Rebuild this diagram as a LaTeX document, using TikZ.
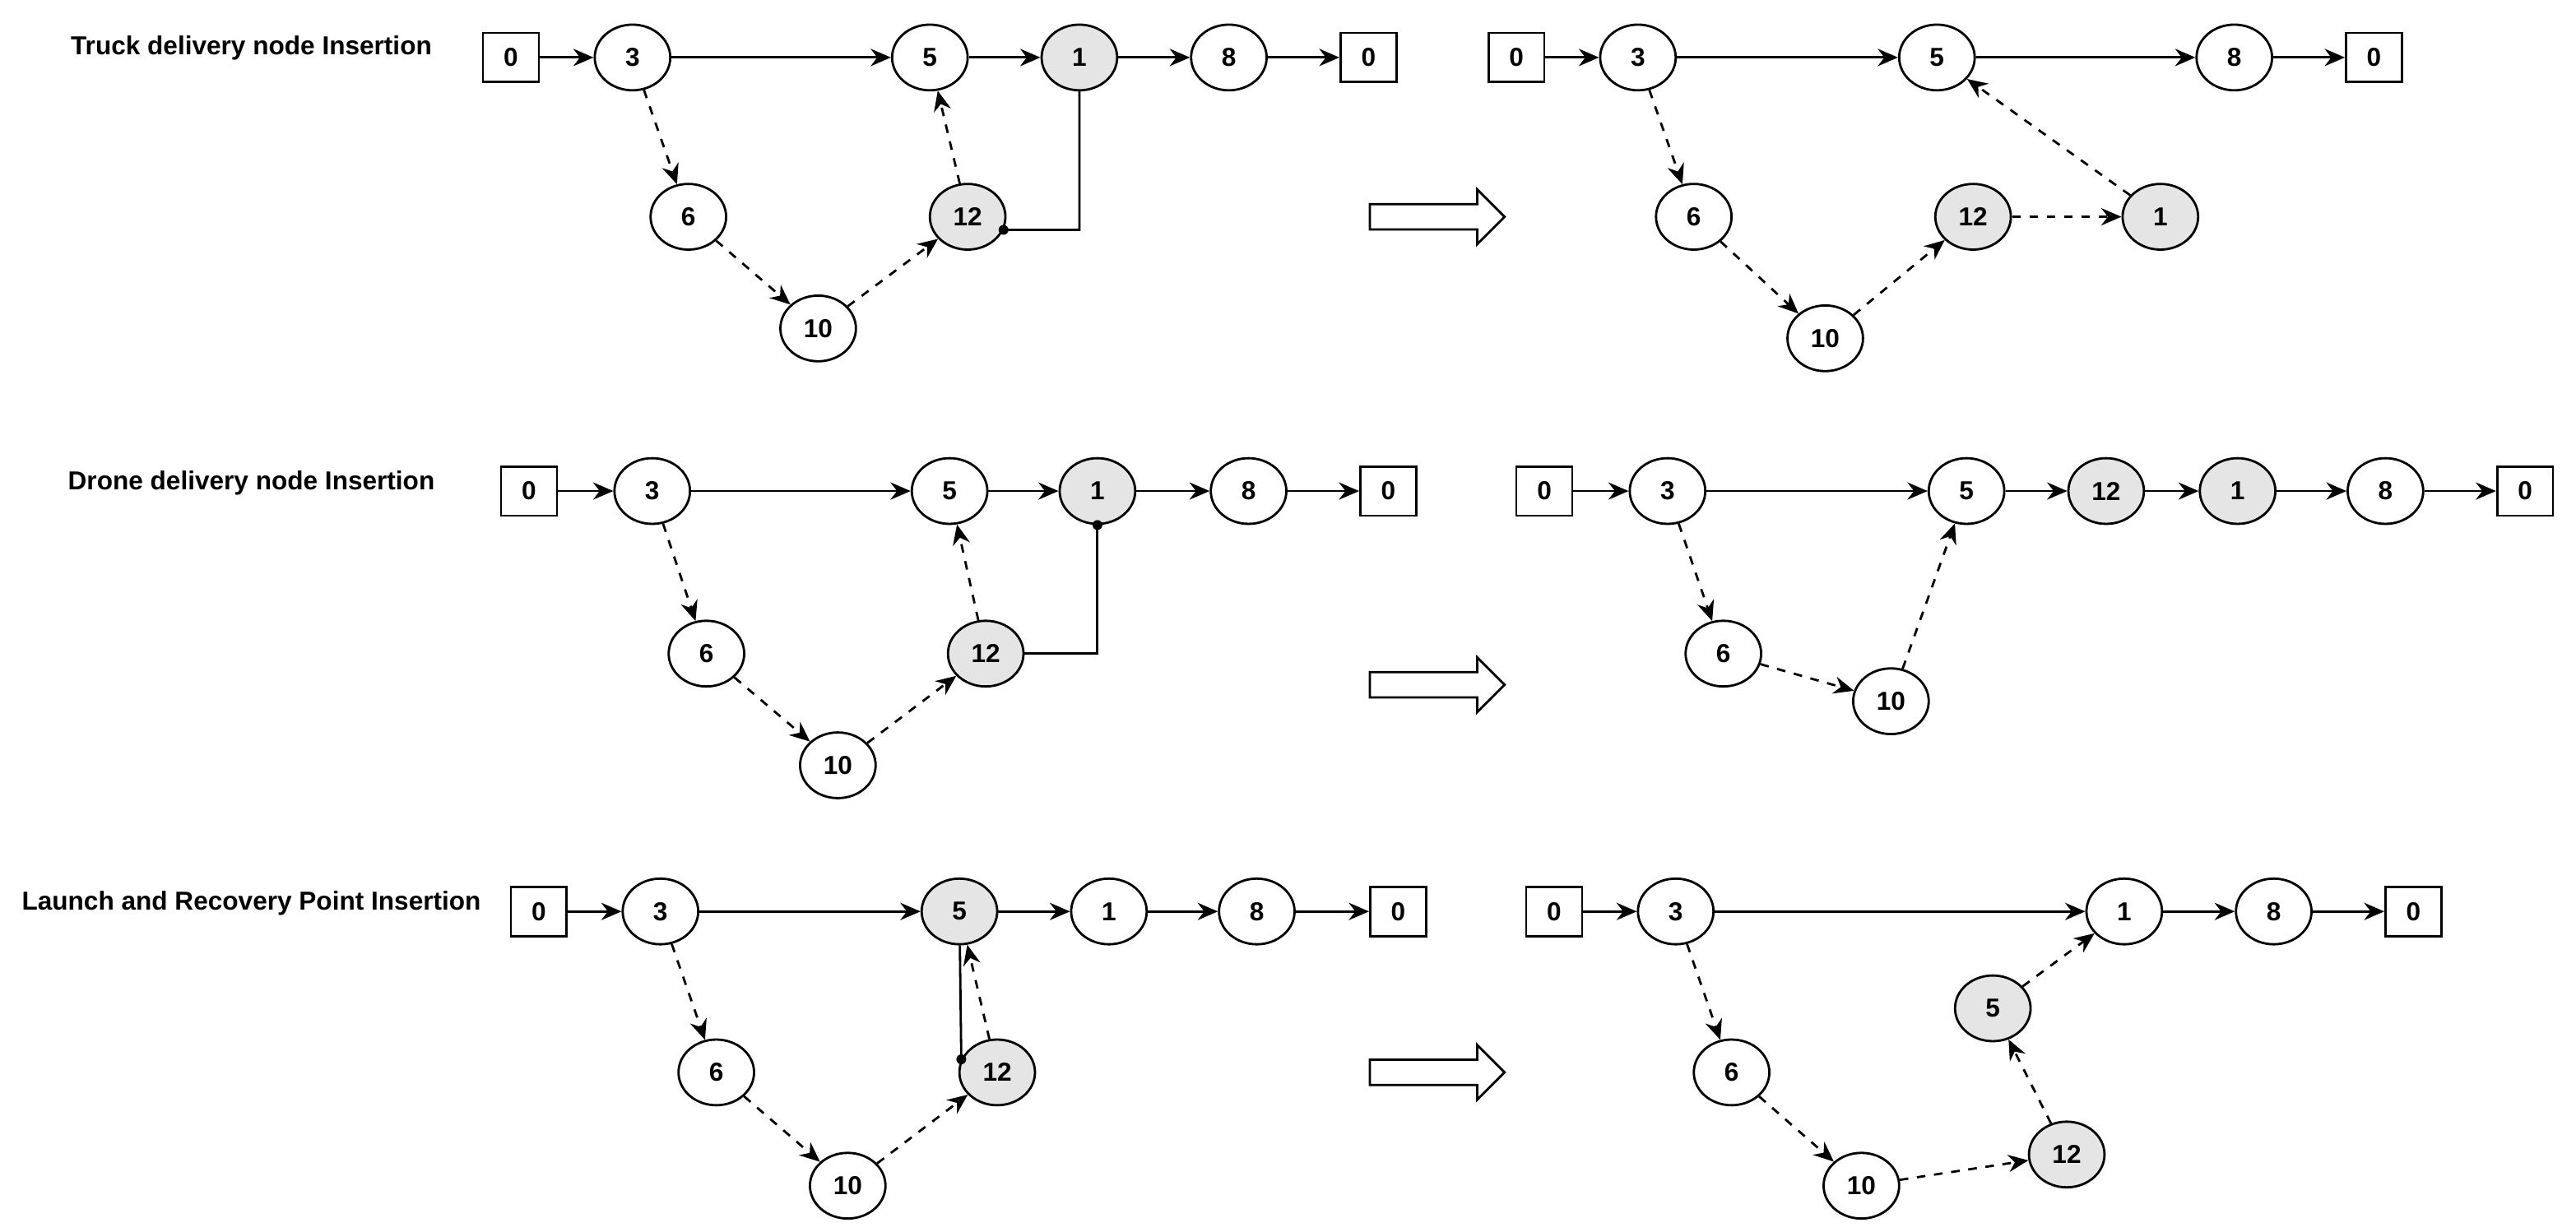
\documentclass[tikz,border=0pt]{standalone}
\usepackage{fontspec}
\setmainfont{Liberation Sans}
\usetikzlibrary{arrows.meta}
\usetikzlibrary{shapes.geometric}
\usetikzlibrary{shapes.arrows}
\tikzset{
  cn/.style={draw,thick,ellipse,minimum width=0.92cm,minimum height=0.8cm,inner sep=0pt,font=\small\bfseries},
  gn/.style={cn,fill=gray!20},
  dp/.style={draw,thick,minimum width=0.68cm,minimum height=0.6cm,inner sep=0pt,font=\small\bfseries},
  tr/.style={thick,-{Stealth[length=7pt,width=6pt]}},
  dr/.style={thick,dashed,-{Stealth[length=7pt,width=6pt]}},
  bigarrow/.style={draw,thick,single arrow,minimum height=1.64cm,inner ysep=0.14cm,inner xsep=0pt,single arrow head extend=0.18cm,shape border rotate=0},
  ttl/.style={font=\small\bfseries}
}
\begin{document}
\begin{tikzpicture}[x=0.02cm,y=-0.02cm]
\useasboundingbox (0,0) rectangle (1568,750);

% row 1
\node[ttl] (t1) at (153,29) {Truck delivery node Insertion};
\node[dp] (a0) at (311,35) {0};
\node[cn] (a3) at (385,35) {3};
\node[cn] (a5) at (566,35) {5};
\node[gn] (a1) at (657,35) {1};
\node[cn] (a8) at (748,35) {8};
\node[dp] (ae) at (833,35) {0};
\node[cn] (a6) at (419,132) {6};
\node[cn] (a10) at (498,200) {10};
\node[gn] (a12) at (589,132) {12};
\coordinate (ac) at (657,140);
\draw[tr] (a0)--(a3);
\draw[tr] (a3)--(a5);
\draw[tr] (a5)--(a1);
\draw[tr] (a1)--(a8);
\draw[tr] (a8)--(ae);
\draw[dr] (a3)--(a6);
\draw[dr] (a6)--(a10);
\draw[dr] (a10)--(a12);
\draw[dr] (a12)--(a5);
\draw[thick] (a1.south)--(ac)--(a12.-20);
\fill (a12.-20) circle (3);
\node[bigarrow] (ar1) at (871,132) {};
\node[dp] (b0) at (923,35) {0};
\node[cn] (b3) at (997,35) {3};
\node[cn] (b5) at (1179,35) {5};
\node[cn] (b8) at (1360,35) {8};
\node[dp] (be) at (1445,35) {0};
\node[cn] (b6) at (1031,132) {6};
\node[cn] (b10) at (1111,206) {10};
\node[gn] (b12) at (1201,132) {12};
\node[gn] (b1) at (1315,132) {1};
\draw[tr] (b0)--(b3);
\draw[tr] (b3)--(b5);
\draw[tr] (b5)--(b8);
\draw[tr] (b8)--(be);
\draw[dr] (b3)--(b6);
\draw[dr] (b6)--(b10);
\draw[dr] (b10)--(b12);
\draw[dr] (b12)--(b1);
\draw[dr] (b1)--(b5);

% row 2
\node[ttl] (t2) at (153,294) {Drone delivery node Insertion};
\node[dp] (c0) at (322,299) {0};
\node[cn] (c3) at (397,299) {3};
\node[cn] (c5) at (578,299) {5};
\node[gn] (c1) at (668,299) {1};
\node[cn] (c8) at (760,299) {8};
\node[dp] (ce) at (845,299) {0};
\node[cn] (c6) at (430,398) {6};
\node[cn] (c10) at (510,466) {10};
\node[gn] (c12) at (600,398) {12};
\coordinate (cc) at (668,398);
\draw[tr] (c0)--(c3);
\draw[tr] (c3)--(c5);
\draw[tr] (c5)--(c1);
\draw[tr] (c1)--(c8);
\draw[tr] (c8)--(ce);
\draw[dr] (c3)--(c6);
\draw[dr] (c6)--(c10);
\draw[dr] (c10)--(c12);
\draw[dr] (c12)--(c5);
\draw[thick] (c12.east)--(cc)--(c1.south);
\fill (c1.south) circle (3);
\node[bigarrow] (ar2) at (871,417) {};
\node[dp] (d0) at (940,299) {0};
\node[cn] (d3) at (1015,299) {3};
\node[cn] (d5) at (1197,299) {5};
\node[gn] (d12) at (1282,299) {12};
\node[gn] (d1) at (1362,299) {1};
\node[cn] (d8) at (1452,299) {8};
\node[dp] (de) at (1537,299) {0};
\node[cn] (d6) at (1049,398) {6};
\node[cn] (d10) at (1151,427) {10};
\draw[tr] (d0)--(d3);
\draw[tr] (d3)--(d5);
\draw[tr] (d5)--(d12);
\draw[tr] (d12)--(d1);
\draw[tr] (d1)--(d8);
\draw[tr] (d8)--(de);
\draw[dr] (d3)--(d6);
\draw[dr] (d6)--(d10);
\draw[dr] (d10)--(d5);

% row 3
\node[ttl] (t3) at (153,550) {Launch and Recovery Point Insertion};
\node[dp] (e0) at (328,555) {0};
\node[cn] (e3) at (402,555) {3};
\node[gn] (e5) at (584,555) {5};
\node[cn] (e1) at (675,555) {1};
\node[cn] (e8) at (765,555) {8};
\node[dp] (ee) at (851,555) {0};
\node[cn] (e6) at (436,653) {6};
\node[cn] (e10) at (516,722) {10};
\node[gn] (e12) at (607,653) {12};
\draw[tr] (e0)--(e3);
\draw[tr] (e3)--(e5);
\draw[tr] (e5)--(e1);
\draw[tr] (e1)--(e8);
\draw[tr] (e8)--(ee);
\draw[dr] (e3)--(e6);
\draw[dr] (e6)--(e10);
\draw[dr] (e10)--(e12);
\draw[dr] (e12)--(e5);
\draw[thick] (e5)--(e12.160);
\fill (e12.160) circle (3);
\node[bigarrow] (ar3) at (871,653) {};
\node[dp] (f0) at (946,555) {0};
\node[cn] (f3) at (1020,555) {3};
\node[cn] (f1) at (1293,555) {1};
\node[cn] (f8) at (1384,555) {8};
\node[dp] (fe) at (1469,555) {0};
\node[cn] (f6) at (1054,653) {6};
\node[cn] (f10) at (1133,722) {10};
\node[gn] (f12) at (1258,703) {12};
\node[gn] (f5) at (1213,614) {5};
\draw[tr] (f0)--(f3);
\draw[tr] (f3)--(f1);
\draw[tr] (f1)--(f8);
\draw[tr] (f8)--(fe);
\draw[dr] (f3)--(f6);
\draw[dr] (f6)--(f10);
\draw[dr] (f10)--(f12);
\draw[dr] (f12)--(f5);
\draw[dr] (f5)--(f1);
\end{tikzpicture}
\end{document}
